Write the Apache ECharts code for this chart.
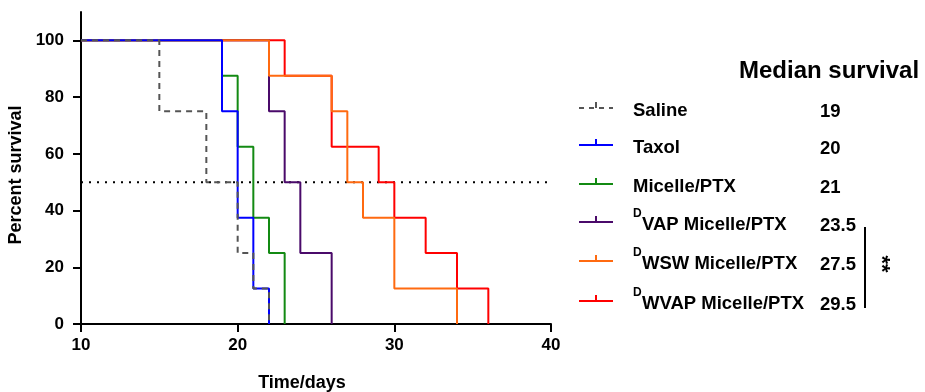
<!DOCTYPE html>
<html>
<head>
<meta charset="utf-8">
<script src="https://cdn.jsdelivr.net/npm/echarts@6/dist/echarts.min.js"></script>
<style>
html,body{margin:0;padding:0;background:#fff;}
#chart{width:925px;height:392px;}
</style>
</head>
<body>
<div id="chart"></div>
<script>
// ---- data ----
var salineData  = [[10,100],[15,75],[18,50],[20,25],[21,12.5],[22,0]];
var taxolData   = [[10,100],[19,75],[20,37.5],[21,12.5],[22,0]];
var micelleData = [[10,100],[19,87.5],[20,62.5],[21,37.5],[22,25],[23,0]];
var vapData     = [[10,100],[22,75],[23,50],[24,25],[26,0]];
var swsData     = [[10,100],[22,87.5],[26,75],[27,50],[28,37.5],[30,12.5],[34,0]];
var wvapData    = [[10,100],[23,87.5],[26,62.5],[29,50],[30,37.5],[32,25],[34,12.5],[36,0]];
var halfLine    = [[10,50],[40,50]];
var yTicks      = [0,20,40,60,80,100];
var xTicks      = [10,20,30,40];
var groupNames  = ['Saline','Taxol','Micelle/PTX','VAP Micelle/PTX','WSW Micelle/PTX','WVAP Micelle/PTX'];
var groupSup    = ['','','','D','D','D'];
var medians     = ['19','20','21','23.5','27.5','29.5'];

var colors = {
  saline:'#555555', taxol:'#0000ff', micelle:'#138a13',
  vap:'#4a0a6a', wsw:'#ff6a10', wvap:'#ff0000'
};
var legendColors = [colors.saline, colors.taxol, colors.micelle, colors.vap, colors.wsw, colors.wvap];
var FONT = 'Liberation Sans, Arial, Helvetica, sans-serif';

function stepSeries(name, data, color, dashed) {
  return {
    name: name, type: 'line', step: 'end', data: data,
    symbol: 'none', animation: false,
    lineStyle: { color: color, width: 2, type: dashed ? [6,5] : 'solid' }
  };
}

var chart = echarts.init(document.getElementById('chart'));

// legend graphics
var graphics = [];
var rowY = [111, 148, 187, 225, 264, 304];
graphics.push({
  type:'text', x: 739, y: 71,
  style:{ text:'Median survival', font:'bold 24px ' + FONT, fill:'#000', textVerticalAlign:'middle' }
});
for (var i = 0; i < groupNames.length; i++) {
  var ly = rowY[i] - 3;
  var c = legendColors[i];
  graphics.push({
    type:'line', shape:{x1:579,y1:ly,x2:613,y2:ly},
    style:{ stroke:c, lineWidth:2, lineDash: i === 0 ? [5,5] : null }
  });
  graphics.push({
    type:'line', shape:{x1:596,y1:ly,x2:596,y2:ly-6},
    style:{ stroke:c, lineWidth:2 }
  });
  var tx = 633;
  if (groupSup[i]) {
    graphics.push({
      type:'text', x: 633, y: rowY[i] - 11,
      style:{ text: groupSup[i], font:'bold 12px ' + FONT, fill:'#000', textVerticalAlign:'middle' }
    });
    tx = 642;
  }
  graphics.push({
    type:'text', x: tx, y: rowY[i],
    style:{ text: groupNames[i], font:'bold 18.5px ' + FONT, fill:'#000', textVerticalAlign:'middle' }
  });
  graphics.push({
    type:'text', x: 820, y: rowY[i] + 1,
    style:{ text: medians[i], font:'bold 18.5px ' + FONT, fill:'#000', textVerticalAlign:'middle' }
  });
}
graphics.push({
  type:'line', shape:{x1:865,y1:227,x2:865,y2:308},
  style:{ stroke:'#000', lineWidth:2 }
});
graphics.push({
  type:'text', x: 881, y: 264, rotation: -Math.PI/2,
  style:{ text:'**', font:'bold 22px ' + FONT, fill:'#000', textAlign:'center', textVerticalAlign:'middle' }
});

var option = {
  backgroundColor:'#fff',
  animation:false,
  grid:{ left:81, right:374, top:12, bottom:68, containLabel:false, outerBoundsMode:'none' },
  xAxis:{
    type:'value', min:10, max:40, interval:10,
    name:'Time/days', nameLocation:'middle', nameGap:50,
    nameTextStyle:{ color:'#000', fontWeight:'bold', fontSize:18, fontFamily:FONT, padding:[0,28,0,0] },
    axisLine:{ show:true, onZero:false, lineStyle:{ color:'#000', width:2 } },
    axisTick:{ show:true, inside:false, length:8, lineStyle:{ color:'#000', width:2, opacity:1 } },
    axisLabel:{ color:'#000', fontWeight:'bold', fontSize:17, fontFamily:FONT, margin:13 },
    splitLine:{ show:false }
  },
  yAxis:{
    type:'value', min:0, max:110, interval:20,
    name:'Percent survival', nameLocation:'middle', nameGap:52,
    nameTextStyle:{ color:'#000', fontWeight:'bold', fontSize:18, fontFamily:FONT, padding:[0,14,0,0] },
    axisLine:{ show:true, lineStyle:{ color:'#000', width:2 } },
    axisTick:{ show:true, inside:false, length:8, customValues: yTicks, lineStyle:{ color:'#000', width:2, opacity:1 } },
    axisLabel:{ color:'#000', fontWeight:'bold', fontSize:17, fontFamily:FONT, margin:17, customValues: yTicks },
    splitLine:{ show:false }
  },
  series:[
    { name:'median', type:'line', data: halfLine, symbol:'none', animation:false,
      lineStyle:{ color:'#000', width:2, type:[2,6] } },
    stepSeries('WVAP', wvapData, colors.wvap),
    stepSeries('VAP', vapData, colors.vap),
    stepSeries('Micelle', micelleData, colors.micelle),
    stepSeries('WSW', swsData, colors.wsw),
    stepSeries('Taxol', taxolData, colors.taxol),
    stepSeries('Saline', salineData, colors.saline, true)
  ],
  graphic: graphics
};
chart.setOption(option);
</script>
</body>
</html>
